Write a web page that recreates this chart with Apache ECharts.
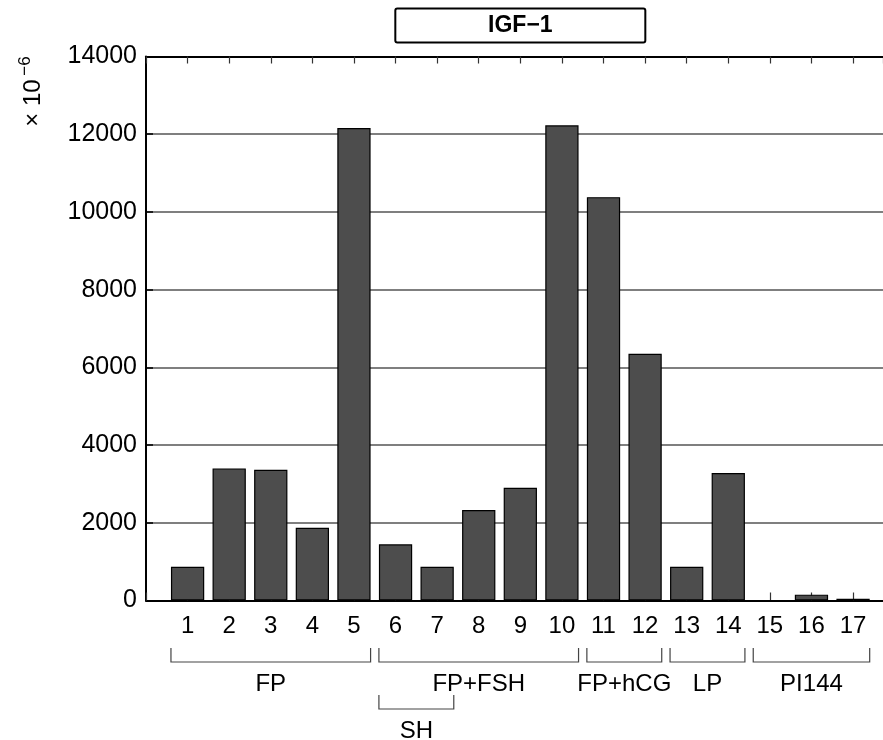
<!DOCTYPE html>
<html>
<head>
<meta charset="utf-8">
<script src="https://cdn.jsdelivr.net/npm/echarts@6/dist/echarts.min.js"></script>
<style>
  html, body { margin: 0; padding: 0; background: #fff; }
  #chart { width: 883px; height: 740px; }
</style>
</head>
<body>
<div id="chart"></div>
<script>
// Sample labels along the x axis
const categories = ['1','2','3','4','5','6','7','8','9','10','11','12','13','14','15','16','17'];
// IGF-1 level per sample (×10^-6)
const values = [870, 3400, 3365, 1870, 12160, 1445, 867, 2330, 2900, 12230, 10380, 6350, 870, 3280, 0, 150, 45];
// y axis ticks
const yTicks = [0, 2000, 4000, 6000, 8000, 10000, 12000, 14000];

// Treatment groups shown as brackets under the axis
const groupNames = ['FP', 'FP+FSH', 'FP+hCG', 'LP', 'PI144', 'SH'];
const groupStart = [1, 6, 11, 13, 15, 6];
const groupEnd   = [5, 10, 12, 14, 17, 7];
const groupRow   = [0, 0, 0, 0, 0, 1];

const FONT = '"Liberation Sans", Arial, Helvetica, sans-serif';

const chart = echarts.init(document.getElementById('chart'), null, { renderer: 'canvas' });

// The plot frame runs from 0 to one past the last sample; the canvas cuts it
// just short of its right end.
const xSpan = categories.length + 1;
const xVisible = 17.72;

chart.setOption({
  animation: false,
  backgroundColor: '#fff',
  grid: { left: 146, top: 56.5, width: 738, height: 544, containLabel: false },
  xAxis: [
    {
      type: 'value', min: 0, max: xVisible, interval: 1, position: 'bottom',
      axisLine: { show: true, onZero: false, lineStyle: { color: '#000', width: 2 } },
      axisTick: { show: true, inside: true, length: 8, lineStyle: { color: '#333', width: 1.2 } },
      splitLine: { show: false },
      axisLabel: {
        show: true, fontFamily: FONT, fontSize: 24, color: '#000', margin: 14,
        showMaxLabel: false, hideOverlap: false,
        formatter: v => (Number.isInteger(v) && v >= 1 && v <= categories.length) ? categories[v - 1] : ''
      }
    },
    {
      type: 'value', min: 0, max: xVisible, interval: 1, position: 'top',
      axisLine: { show: true, onZero: false, lineStyle: { color: '#000', width: 2 } },
      axisTick: { show: true, inside: true, length: 7, lineStyle: { color: '#333', width: 1.2 } },
      splitLine: { show: false },
      axisLabel: { show: false }
    }
  ],
  yAxis: {
    type: 'value', min: yTicks[0], max: yTicks[yTicks.length - 1], interval: yTicks[1] - yTicks[0],
    axisLine: { show: true, lineStyle: { color: '#000', width: 2 } },
    axisTick: { show: true, inside: true, length: 7, lineStyle: { color: '#000', width: 1.5 } },
    splitLine: { show: true, lineStyle: { color: '#555', width: 1.5 } },
    axisLabel: { fontFamily: FONT, fontSize: 25, color: '#000', margin: 9, formatter: v => String(v) }
  },
  series: [{
    type: 'bar',
    xAxisIndex: 0,
    data: values.map((v, i) => [i + 1, v]),
    barWidth: '80%',
    itemStyle: { color: '#4d4d4d', borderColor: '#000', borderWidth: 1.2 }
  }]
});

// Brackets, group names, title box and axis multiplier
const graphics = [];
const rowTop = [648, 695];
const rowBottom = [662, 709];
const rowLabel = [684, 731];
const half = 0.4;
for (let g = 0; g < groupNames.length; g++) {
  const x1 = chart.convertToPixel({ xAxisIndex: 0 }, groupStart[g] - half);
  const x2 = chart.convertToPixel({ xAxisIndex: 0 }, groupEnd[g] + half);
  const r = groupRow[g];
  graphics.push({
    type: 'polyline',
    shape: { points: [[x1, rowTop[r]], [x1, rowBottom[r]], [x2, rowBottom[r]], [x2, rowTop[r]]] },
    style: { stroke: '#444', lineWidth: 1.2, fill: null }
  });
  graphics.push({
    type: 'text',
    x: (x1 + x2) / 2, y: rowLabel[r],
    style: { text: groupNames[g], font: '24px ' + FONT, fill: '#000', textAlign: 'center', textVerticalAlign: 'middle' }
  });
}

const gx0 = chart.convertToPixel({ xAxisIndex: 0 }, 0);
const gx1 = chart.convertToPixel({ xAxisIndex: 0 }, xSpan);
const cx = (gx0 + gx1) / 2;
graphics.push({
  type: 'rect',
  shape: { x: cx - 125, y: 8.5, width: 250, height: 34, r: 2 },
  style: { fill: '#fff', stroke: '#000', lineWidth: 2 }
});
graphics.push({
  type: 'text', x: cx, y: 26,
  style: { text: 'IGF\u22121', font: 'bold 23px ' + FONT, fill: '#000', textAlign: 'center', textVerticalAlign: 'middle' }
});
graphics.push({
  type: 'text', x: 33, y: 103, rotation: Math.PI / 2,
  style: { text: '\u00d7 10', font: '24px ' + FONT, fill: '#000', textAlign: 'center', textVerticalAlign: 'middle' }
});
graphics.push({
  type: 'text', x: 25, y: 66, rotation: Math.PI / 2,
  style: { text: '\u22126', font: '17px ' + FONT, fill: '#000', textAlign: 'center', textVerticalAlign: 'middle' }
});

chart.setOption({ graphic: graphics });
</script>
</body>
</html>
